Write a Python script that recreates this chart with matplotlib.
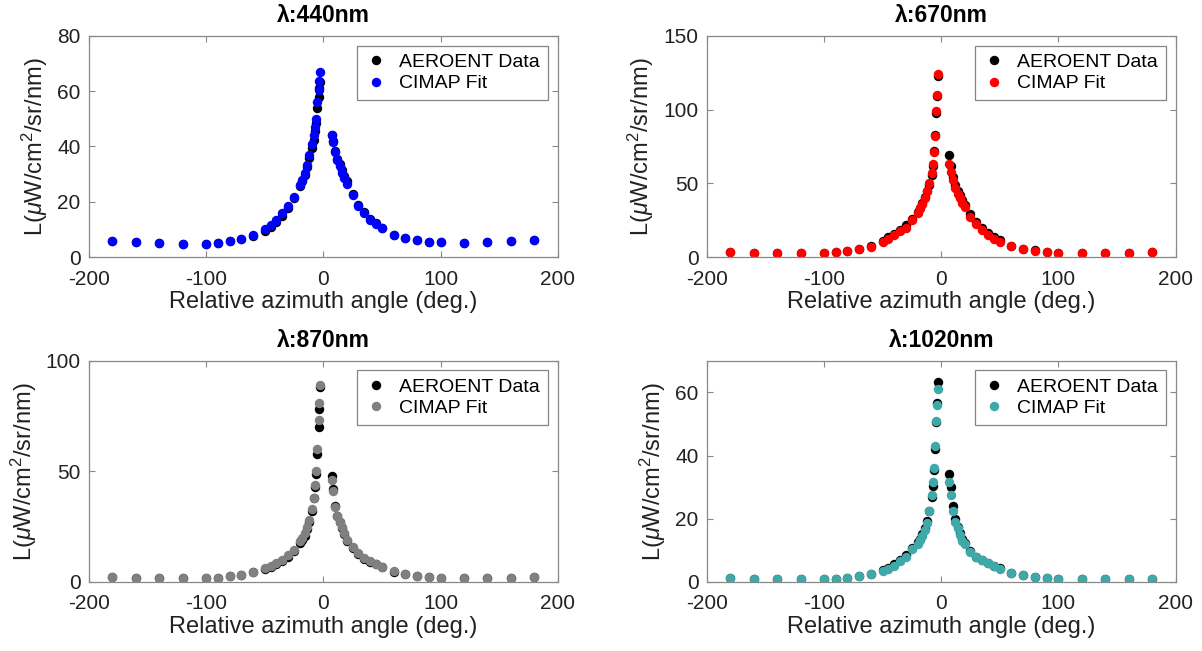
import matplotlib.pyplot as plt

plt.rcParams['font.family'] = ['Liberation Sans', 'DejaVu Sans']
plt.rcParams['mathtext.fontset'] = 'custom'
plt.rcParams['mathtext.rm'] = 'Liberation Sans'
plt.rcParams['mathtext.it'] = 'Liberation Sans:italic'
plt.rcParams['axes.unicode_minus'] = False

# relative azimuth angles (deg.)
angle = [-180, -160, -140, -120, -100, -90, -80, -70, -60, -50, -45, -40, -35, -30,
         -25, -20, -18, -16, -14, -12, -10, -8, -7, -6, -5, -4, -3.5, -3,
         7, 8, 10, 12, 14, 16, 18, 20, 25, 30, 35, 40, 45, 50,
         60, 70, 80, 90, 100, 120, 140, 160, 180]

# 440 nm
data_440 = [5.7, 5.4, 5.1, 4.7, 4.7, 5.1, 5.7, 6.5, 7.6, 9.3, 11.0, 12.6, 15.0, 17.8,
            21.2, 25.6, 27.5, 29.8, 32.7, 36.0, 39.5, 42.5, 45.5, 48.5, 54.0, 58.0, 61.0, 63.2,
            44.2, 42.0, 38.5, 35.5, 33.5, 31.5, 29.5, 27.5, 23.0, 18.8, 16.2, 13.8, 12.2, 10.6,
            8.0, 6.8, 6.1, 5.6, 5.3, 5.1, 5.4, 5.8, 6.1]
fit_440 = [5.7, 5.4, 5.1, 4.7, 4.7, 5.1, 5.7, 6.5, 8.1, 10.1, 11.7, 13.5, 15.9, 18.5,
           21.9, 26.1, 27.9, 30.3, 33.3, 36.9, 41.0, 44.0, 47.0, 50.0, 56.0, 60.5, 63.5, 67.0,
           44.0, 41.5, 38.0, 35.0, 33.0, 30.5, 28.5, 26.5, 22.5, 18.5, 16.0, 13.5, 12.0, 10.5,
           8.0, 6.8, 6.1, 5.6, 5.3, 5.1, 5.4, 5.8, 6.1]

# 670 nm
data_670 = [3.2, 3.1, 2.9, 2.7, 2.8, 3.4, 4.5, 5.8, 7.5, 11.0, 13.5, 16.0, 18.5, 21.5,
            26.0, 30.5, 33.5, 36.5, 40.5, 45.0, 49.0, 56.0, 62.0, 72.0, 83.0, 98.0, 109.0, 123.0,
            69.0, 62.0, 54.0, 49.0, 45.0, 42.0, 38.5, 35.5, 29.0, 24.0, 20.0, 16.5, 13.5, 11.5,
            7.8, 5.7, 4.6, 3.7, 3.1, 2.8, 2.8, 3.0, 3.3]
fit_670 = [3.2, 3.1, 2.9, 2.7, 2.8, 3.4, 4.5, 5.6, 7.2, 10.5, 12.5, 15.0, 17.5, 20.0,
           25.0, 30.0, 33.0, 36.0, 40.0, 45.0, 50.0, 57.0, 63.0, 71.0, 82.0, 99.0, 110.0, 124.0,
           63.0, 58.0, 52.0, 47.0, 43.0, 40.0, 37.0, 34.0, 27.5, 22.5, 18.5, 15.0, 12.5, 10.5,
           7.5, 5.6, 4.5, 3.6, 3.0, 2.7, 2.7, 2.9, 3.2]

# 870 nm
data_870 = [2.1, 2.0, 1.8, 1.7, 1.8, 2.0, 2.5, 3.2, 4.3, 6.0, 7.0, 8.0, 9.5, 11.5,
            14.0, 17.5, 19.0, 21.0, 24.0, 27.0, 32.0, 38.0, 43.0, 49.0, 58.0, 70.0, 78.0, 88.0,
            48.0, 42.0, 34.5, 30.0, 27.0, 24.5, 21.5, 18.5, 15.5, 12.5, 10.5, 9.2, 8.0, 6.6,
            4.7, 3.4, 2.6, 2.2, 1.9, 1.7, 1.7, 1.9, 2.1]
fit_870 = [2.1, 2.0, 1.8, 1.7, 1.8, 2.0, 2.5, 3.2, 4.3, 6.2, 7.2, 8.5, 10.0, 12.0,
           14.5, 18.5, 20.0, 22.0, 25.0, 28.0, 33.0, 38.0, 44.0, 50.0, 60.0, 73.0, 81.0, 89.0,
           46.0, 41.0, 34.0, 30.0, 27.0, 25.0, 22.0, 19.0, 16.0, 13.0, 11.0, 9.5, 8.2, 6.8,
           4.8, 3.5, 2.7, 2.3, 2.0, 1.8, 1.8, 2.0, 2.2]

# 1020 nm
data_1020 = [1.2, 1.0, 0.8, 0.8, 0.9, 1.1, 1.4, 1.9, 2.5, 3.7, 4.5, 5.6, 6.9, 8.4,
             10.8, 12.5, 13.7, 15.2, 17.0, 19.2, 22.5, 27.0, 30.5, 35.5, 42.0, 50.5, 56.5, 63.3,
             34.3, 30.0, 24.0, 20.0, 17.5, 15.5, 13.5, 12.2, 9.8, 8.0, 6.9, 5.9, 5.1, 4.3,
             2.9, 2.1, 1.6, 1.3, 1.1, 0.9, 0.9, 1.0, 1.1]
fit_1020 = [1.2, 1.0, 0.8, 0.8, 0.9, 1.1, 1.4, 1.9, 2.4, 3.5, 4.2, 5.2, 6.5, 8.0,
            10.5, 12.0, 13.2, 14.7, 16.5, 18.8, 22.5, 27.5, 31.5, 36.0, 43.0, 51.0, 56.0, 61.0,
            31.5, 27.5, 22.5, 19.0, 17.0, 15.0, 13.0, 12.0, 9.5, 8.0, 7.0, 6.0, 5.0, 4.2,
            2.9, 2.1, 1.6, 1.3, 1.1, 0.9, 0.9, 1.0, 1.1]

titles = ['λ:440nm', 'λ:670nm', 'λ:870nm', 'λ:1020nm']
data_sets = [data_440, data_670, data_870, data_1020]
fit_sets = [fit_440, fit_670, fit_870, fit_1020]
fit_colors = ['#0000ff', '#ff0000', '#808080', '#3fa9a9']
y_limits = [(0, 80), (0, 150), (0, 100), (0, 70)]
y_ticks = [[0, 20, 40, 60, 80], [0, 50, 100, 150], [0, 50, 100], [0, 20, 40, 60]]

# axes boxes [left, bottom, width, height] in figure fraction
boxes = [[0.074, 0.605, 0.390, 0.340],
         [0.588, 0.605, 0.390, 0.340],
         [0.074, 0.106, 0.390, 0.340],
         [0.588, 0.106, 0.390, 0.340]]

fig = plt.figure(figsize=(12.02, 6.51), dpi=100)

for i in range(4):
    ax = fig.add_axes(boxes[i])
    ax.plot(angle, data_sets[i], 'o', color='black', markersize=6.8,
            markeredgewidth=0, label='AEROENT Data')
    ax.plot(angle, fit_sets[i], 'o', color=fit_colors[i], markersize=6.8,
            markeredgewidth=0, label='CIMAP Fit')
    ax.set_xlim(-200, 200)
    ax.set_ylim(*y_limits[i])
    ax.set_xticks([-200, -100, 0, 100, 200])
    ax.set_yticks(y_ticks[i])
    ax.tick_params(direction='in', top=True, right=True, length=4,
                   width=0.8, color='#888888', labelsize=15, labelcolor='#222222')
    ax.tick_params(axis='x', pad=9)
    ax.tick_params(axis='y', pad=6)
    for sp in ax.spines.values():
        sp.set_color('#888888')
        sp.set_linewidth(0.9)
    ax.set_title(titles[i], fontsize=16.5, fontweight='bold', pad=10)
    ax.set_xlabel('Relative azimuth angle (deg.)', fontsize=17, labelpad=2,
                  color='#222222')
    ax.set_ylabel(r'L($\mu$W/cm$^2$/sr/nm)', fontsize=17, labelpad=5,
                  color='#222222')
    leg = ax.legend(loc='upper right', fontsize=14, frameon=True, fancybox=False,
                    edgecolor='#666666', handletextpad=0.6, labelspacing=0.2,
                    borderpad=0.4, handlelength=1.2, borderaxespad=0.5)
    leg.get_frame().set_linewidth(0.9)

plt.savefig('out.png', dpi=100)
